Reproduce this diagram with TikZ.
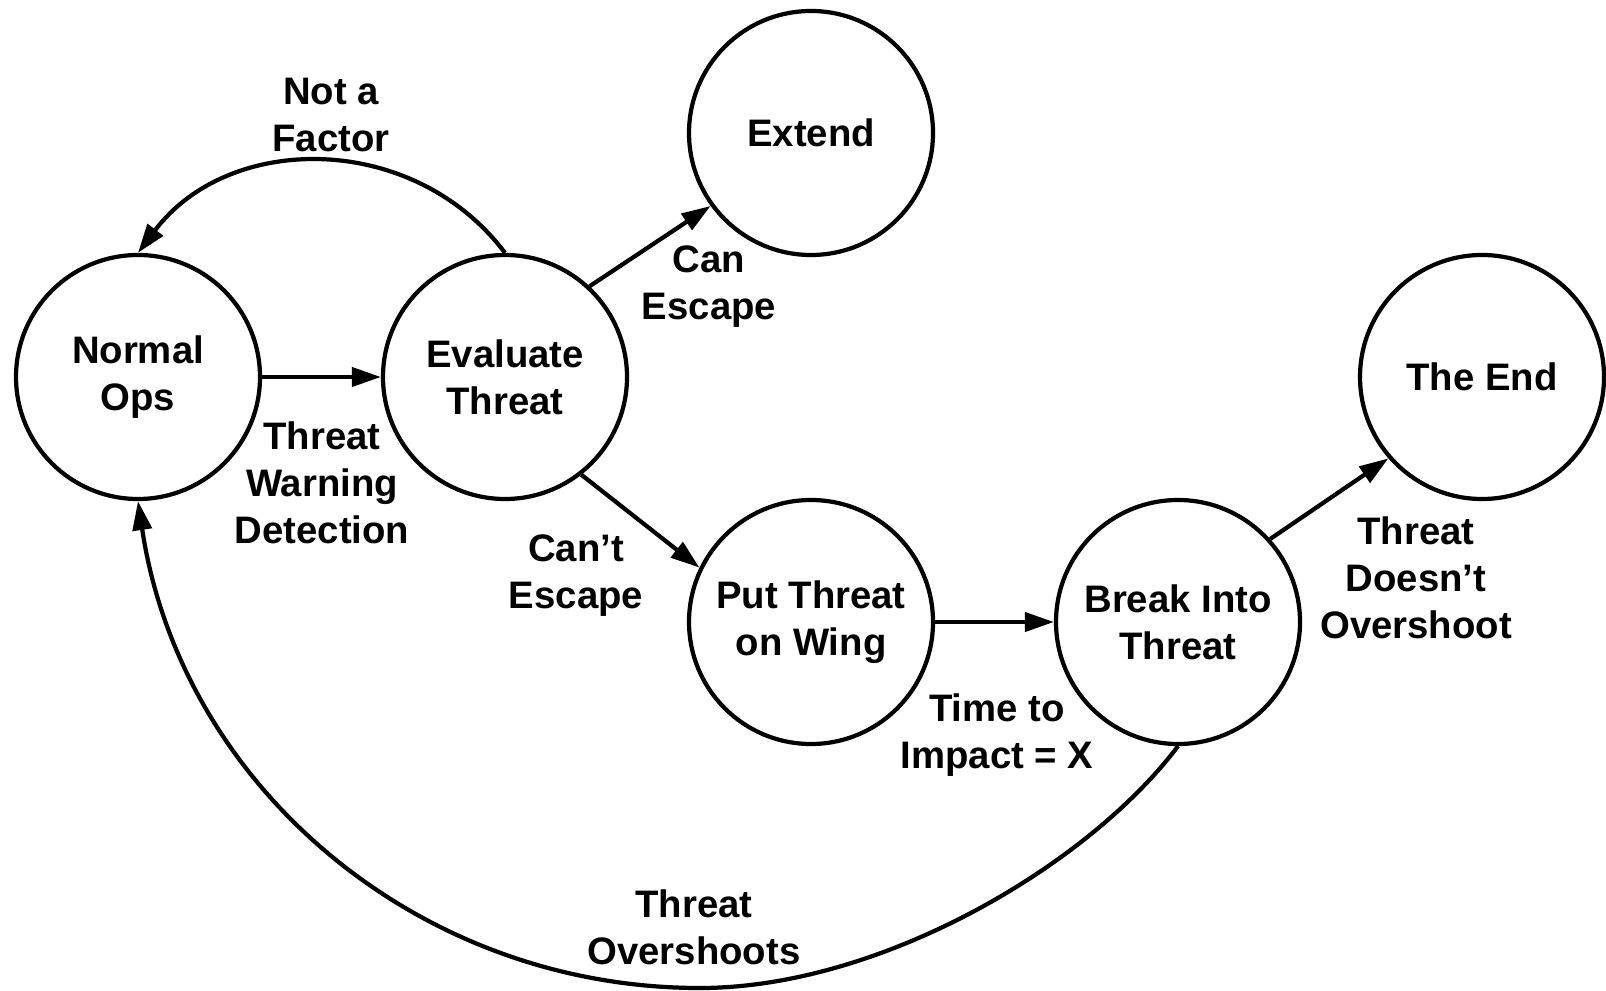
\documentclass[tikz,border=0pt]{standalone}
\usepackage{fontspec}
\setmainfont{Liberation Sans}
\usetikzlibrary{arrows.meta, positioning}

\begin{document}
\begin{tikzpicture}[
	state/.style = {circle, draw, line width = 1.2pt, minimum size = 2.44cm, inner sep = 0pt, align = center},
	edge/.style = {-{Triangle[length = 2.9mm, width = 1.9mm]}, line width = 1.2pt},
	lbl/.style = {align = center},
	font = \fontsize{10.9}{13.4}\selectfont\bfseries
]
	%	canvas
	\useasboundingbox (0, 0) rectangle (16.06, -9.91);
	
	%	states
	\node[state] (normal)   at (1.38, -3.77)  {Normal\\Ops};
	\node[state] (evaluate) at (5.05, -3.77)  {Evaluate\\Threat};
	\node[state] (extend)   at (8.11, -1.33)  {Extend};
	\node[state] (wing)     at (8.11, -6.22)  {Put Threat\\on Wing};
	\node[state] (break)    at (11.78, -6.22) {Break Into\\Threat};
	\node[state] (theend)   at (14.82, -3.77) {The End};
	
	%	bottom of the long way back
	\coordinate (low) at (7.00, -9.88);
	
	%	transitions
	\draw[edge] (normal) -- (evaluate);
	\draw[edge] (evaluate.47) -- (extend.216);
	\draw[edge] (evaluate.308) -- (wing.154);
	\draw[edge] (wing) -- (break);
	\draw[edge] (break.42) -- (theend.221);
	\draw[edge] (evaluate.north) to[out = 127, in = 53, looseness = 1.06] (normal.north);
	\draw[edge] (break.south) .. controls +(233:1.5) and +(0:1.8) .. (low)
		.. controls +(180:2.85) and +(278.5:2.85) .. (normal.south);
	
	%	labels
	\node[lbl] (notfactor) at (3.31, -1.15)  {Not a\\Factor};
	\node[lbl] (canesc)    at (7.09, -2.87)  {Can\\Escape};
	\node[lbl] (warning)   at (3.22, -4.83)  {Threat\\Warning\\Detection};
	\node[lbl] (cantesc)   at (5.76, -5.76)  {Can’t\\Escape};
	\node[lbl] (impact)    at (9.97, -7.35)  {Time to\\Impact = X};
	\node[lbl] (noshoot)   at (14.16, -5.78) {Threat\\Doesn’t\\Overshoot};
	\node[lbl] (overshoot) at (6.94, -9.27)  {Threat\\Overshoots};
\end{tikzpicture}
\end{document}
